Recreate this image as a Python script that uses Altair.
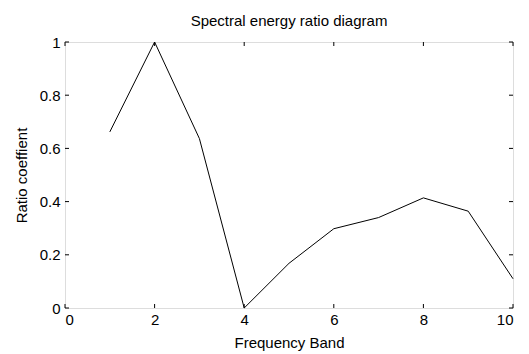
import altair as alt
import pandas as pd

band = [1, 2, 3, 4, 5, 6, 7, 8, 9, 10]
ratio = [0.662, 1.0, 0.637, 0.0, 0.168, 0.298, 0.340, 0.414, 0.364, 0.110]
x_ticks = [0, 2, 4, 6, 8, 10]
y_ticks = [0, 0.2, 0.4, 0.6, 0.8, 1.0]

W, H = 448, 266
FONT = "Liberation Sans"

df = pd.DataFrame({"band": band, "ratio": ratio})
xt = pd.DataFrame({"t": x_ticks})
yt = pd.DataFrame({"t": y_ticks})

xs = alt.Scale(domain=[0, 10], nice=False, zero=False)
ys = alt.Scale(domain=[0, 1], nice=False, zero=False)

line = alt.Chart(df).mark_line(color="black", strokeWidth=1).encode(
    x=alt.X("band:Q", scale=xs, title="Frequency Band",
            axis=alt.Axis(values=x_ticks, ticks=False, domain=False, grid=False,
                          labelFont=FONT, labelFontSize=15, labelColor="black",
                          labelPadding=4, titleFont=FONT, titleFontSize=15,
                          titleFontWeight="normal", titleColor="black", titlePadding=8,
                          format="d")),
    y=alt.Y("ratio:Q", scale=ys, title="Ratio coeffient",
            axis=alt.Axis(values=y_ticks, ticks=False, domain=False, grid=False,
                          labelFont=FONT, labelFontSize=15, labelColor="black",
                          labelPadding=5, titleFont=FONT, titleFontSize=15,
                          titleFontWeight="normal", titleColor="black", titlePadding=10,
                          labelExpr="datum.value == 0 ? '0' : datum.value == 1 ? '1' : format(datum.value, '.1f')")),
)

xb = alt.Chart(xt).mark_rule(color="black", strokeWidth=1).encode(
    x=alt.X("t:Q", scale=xs), y=alt.value(H), y2=alt.value(H - 4))
xtop = alt.Chart(xt).mark_rule(color="black", strokeWidth=1).encode(
    x=alt.X("t:Q", scale=xs), y=alt.value(0), y2=alt.value(4))
yl = alt.Chart(yt).mark_rule(color="black", strokeWidth=1).encode(
    y=alt.Y("t:Q", scale=ys), x=alt.value(0), x2=alt.value(4))
yr = alt.Chart(yt).mark_rule(color="black", strokeWidth=1).encode(
    y=alt.Y("t:Q", scale=ys), x=alt.value(W), x2=alt.value(W - 4))

chart = alt.layer(line, xb, xtop, yl, yr).properties(
    width=W, height=H,
    title=alt.TitleParams("Spectral energy ratio diagram", font=FONT, fontSize=15,
                          fontWeight="normal", color="black", offset=6, anchor="middle"),
    autosize=alt.AutoSizeParams(type="none"),
    padding={"left": 65, "top": 42, "right": 16, "bottom": 46},
).configure_view(stroke="black", strokeWidth=1).configure(background="white")

chart.save("out.html", embed_options={"renderer": "svg", "actions": False})
